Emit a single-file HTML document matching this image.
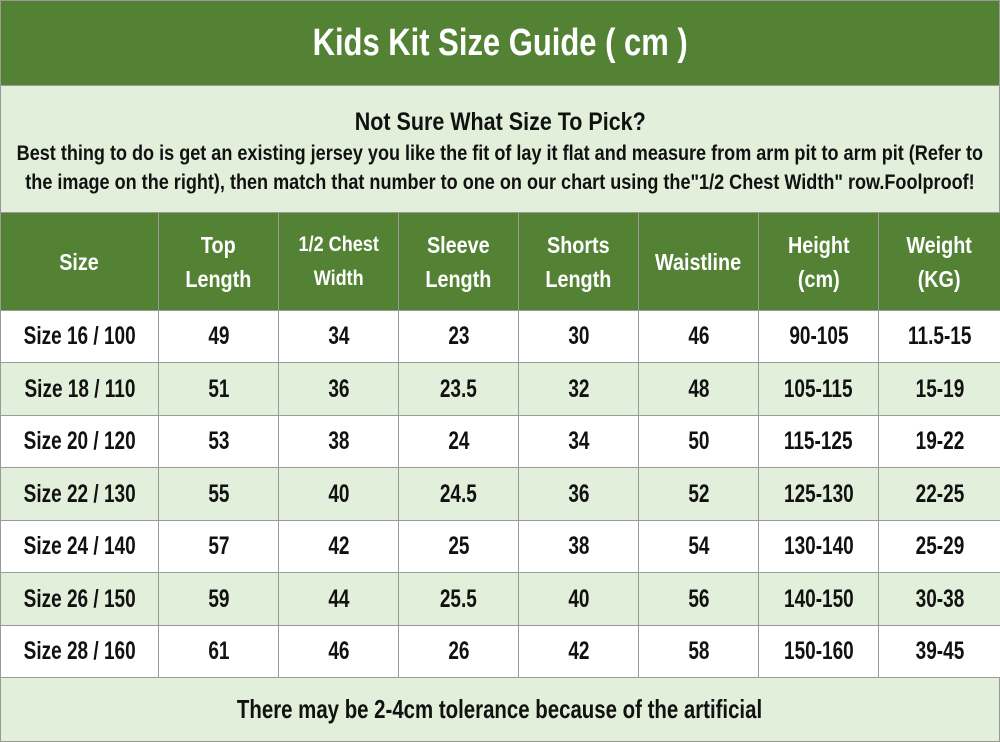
<!DOCTYPE html>
<html><head><meta charset="utf-8"><style>
*{margin:0;padding:0;box-sizing:border-box}
body{width:1000px;height:742px;background:#fff;font-family:"Liberation Sans Narrow","Liberation Sans",sans-serif;color:#111;position:relative;overflow:hidden}
.b{position:absolute;border:1px solid #9a9a9a;display:flex;align-items:center;justify-content:center;text-align:center}
.s{display:inline-block;transform:scaleX(0.86);white-space:nowrap}
.g{background:#548235;color:#fff;font-weight:bold}
.l{background:#e2efda}
.w{background:#fff}
.c{font-size:25px;font-weight:bold}
.c .s{transform:scaleX(0.76)}
.h{font-size:23px;line-height:34px}
</style></head><body>
<div class="b g" style="left:0;top:0;width:1000px;height:86px;font-size:38px"><span class="s" style="transform:scaleX(0.815)">Kids Kit Size Guide ( cm )</span></div>
<div class="b l" style="left:0;top:85px;width:1000px;height:128px;flex-direction:column;font-weight:bold">
<div style="font-size:25px;margin-top:6px"><span class="s">Not Sure What Size To Pick?</span></div>
<div style="font-size:21px;line-height:29px;margin-top:2px"><span class="s">Best thing to do is get an existing jersey you like the fit of lay it flat and measure from arm pit to arm pit (Refer to</span><br><span class="s">the image on the right), then match that number to one on our chart using the"1/2 Chest Width" row.Foolproof!</span></div>
</div>
<div id="t"></div>
<div class="b l" style="left:0;top:677px;width:1000px;height:65px;font-size:26px;font-weight:bold"><span class="s" style="transform:scaleX(0.785)">There may be 2-4cm tolerance because of the artificial</span></div>
<script>
var xs=[0,158,278,398,518,638,758,878,1000];
var hd=["Size","Top<br>Length","1/2 Chest<br>Width","Sleeve<br>Length","Shorts<br>Length","Waistline","Height<br>(cm)","Weight<br>(KG)"];
var rows=[["Size 16 / 100","49","34","23","30","46","90-105","11.5-15"],
["Size 18 / 110","51","36","23.5","32","48","105-115","15-19"],
["Size 20 / 120","53","38","24","34","50","115-125","19-22"],
["Size 22 / 130","55","40","24.5","36","52","125-130","22-25"],
["Size 24 / 140","57","42","25","38","54","130-140","25-29"],
["Size 26 / 150","59","44","25.5","40","56","140-150","30-38"],
["Size 28 / 160","61","46","26","42","58","150-160","39-45"]];
var ys=[310,362,415,467,520,572,625,677];
var h="";
for(var i=0;i<8;i++){
var fs=(i==2)?"font-size:21px;":"";
h+='<div class="b g h" style="left:'+xs[i]+'px;top:212px;width:'+(xs[i+1]-xs[i]+1)+'px;height:99px;'+fs+'"><span class="s">'+hd[i]+'</span></div>';}
for(var r=0;r<7;r++)for(var i=0;i<8;i++){
h+='<div class="b c '+(r%2?'l':'w')+'" style="left:'+xs[i]+'px;top:'+ys[r]+'px;width:'+(xs[i+1]-xs[i]+1)+'px;height:'+(ys[r+1]-ys[r]+1)+'px"><span class="s">'+rows[r][i]+'</span></div>';}
document.getElementById("t").innerHTML=h;
</script>
</body></html>
